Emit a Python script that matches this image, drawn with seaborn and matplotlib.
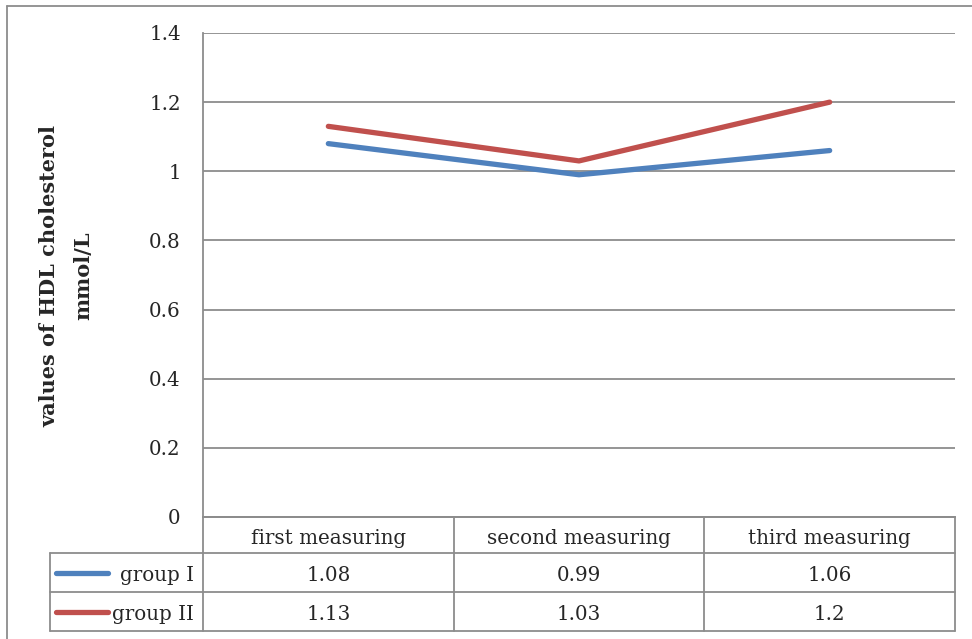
import matplotlib
matplotlib.use("Agg")
import matplotlib.pyplot as plt
import seaborn as sns
import pandas as pd
from matplotlib.lines import Line2D

categories = ["first measuring", "second measuring", "third measuring"]
group_names = ["group I", "group II"]
group1 = [1.08, 0.99, 1.06]
group2 = [1.13, 1.03, 1.2]
yticks = [0, 0.2, 0.4, 0.6, 0.8, 1.0, 1.2, 1.4]
ytick_labels = ["0", "0.2", "0.4", "0.6", "0.8", "1", "1.2", "1.4"]
colors = ["#4F81BD", "#C0504D"]

sns.set_style("white")
plt.rcParams["font.family"] = ["DejaVu Serif"]
FS = 14.3

df = pd.DataFrame({
    "x": list(range(len(categories))) * 2,
    "value": group1 + group2,
    "group": [group_names[0]] * 3 + [group_names[1]] * 3,
})

W, H = 972, 639
fig = plt.figure(figsize=(W / 100, H / 100), dpi=100)
L, R, T, B = 203, 955, 33, 517
ax = fig.add_axes([L / W, 1 - B / H, (R - L) / W, (B - T) / H])

sns.lineplot(data=df, x="x", y="value", hue="group", palette=colors,
             linewidth=3.8, ax=ax, legend=False, sort=False)

grid_c = "#8c8c8c"
ax.set_xlim(-0.5, 2.5)
ax.set_ylim(0, 1.4)
ax.set_yticks(yticks)
ax.set_yticklabels(ytick_labels, fontsize=FS)
ax.set_xticks([])
ax.set_xlabel("")
ax.tick_params(axis="y", length=0, pad=16)
for y in yticks:
    ax.axhline(y, color=grid_c, lw=1.3, zorder=0)
for s in ["top", "right"]:
    ax.spines[s].set_visible(False)
ax.spines["left"].set_color(grid_c)
ax.spines["left"].set_linewidth(1.3)
ax.spines["bottom"].set_color(grid_c)
ax.spines["bottom"].set_linewidth(1.3)


def ax_x(px):
    return (px - L) / (R - L)


def ax_y(py):
    return (B - py) / (B - T)


ax.set_ylabel("values of HDL cholesterol\nmmol/L", fontsize=15, fontweight="bold",
              linespacing=1.85)
ax.yaxis.set_label_coords(ax_x(66), ax_y(276))
ax.yaxis.label.set_verticalalignment("center")

col_edges = [L + (R - L) * i / 3 for i in range(4)]
row_edges = [517, 553, 592, 631]
lab_left = 50
kw = dict(color=grid_c, lw=1.3, transform=ax.transAxes, clip_on=False)

ax.add_line(Line2D([ax_x(L), ax_x(R)], [ax_y(row_edges[0])] * 2, **kw))
for ry in row_edges[1:]:
    ax.add_line(Line2D([ax_x(lab_left), ax_x(R)], [ax_y(ry)] * 2, **kw))
for cx in col_edges:
    ax.add_line(Line2D([ax_x(cx)] * 2, [ax_y(row_edges[0]), ax_y(row_edges[3])], **kw))
ax.add_line(Line2D([ax_x(lab_left)] * 2, [ax_y(row_edges[1]), ax_y(row_edges[3])], **kw))

for i, c in enumerate(categories):
    xc = (col_edges[i] + col_edges[i + 1]) / 2
    ax.text(ax_x(xc), ax_y((row_edges[0] + row_edges[1]) / 2 + 1), c, fontsize=FS,
            ha="center", va="center_baseline", transform=ax.transAxes)

rows = [group1, group2]
for r, (name, vals) in enumerate(zip(group_names, rows)):
    yc = (row_edges[r + 1] + row_edges[r + 2]) / 2
    ax.add_line(Line2D([ax_x(56), ax_x(108)], [ax_y(yc)] * 2, color=colors[r], lw=3.8,
                       solid_capstyle="round", transform=ax.transAxes, clip_on=False))
    ax.text(ax_x(194), ax_y(yc + 1), name, fontsize=FS, ha="right", va="center_baseline",
            transform=ax.transAxes)
    for i, v in enumerate(vals):
        xc = (col_edges[i] + col_edges[i + 1]) / 2
        ax.text(ax_x(xc), ax_y(yc + 1), f"{v:g}", fontsize=FS, ha="center",
                va="center_baseline", transform=ax.transAxes)

fig.add_artist(Line2D([7 / W, 1.0], [1 - 6 / H] * 2, color=grid_c, lw=1.3,
                      transform=fig.transFigure))
fig.add_artist(Line2D([7 / W] * 2, [0, 1 - 6 / H], color=grid_c, lw=1.3,
                      transform=fig.transFigure))

fig.savefig("out.png", dpi=100)
